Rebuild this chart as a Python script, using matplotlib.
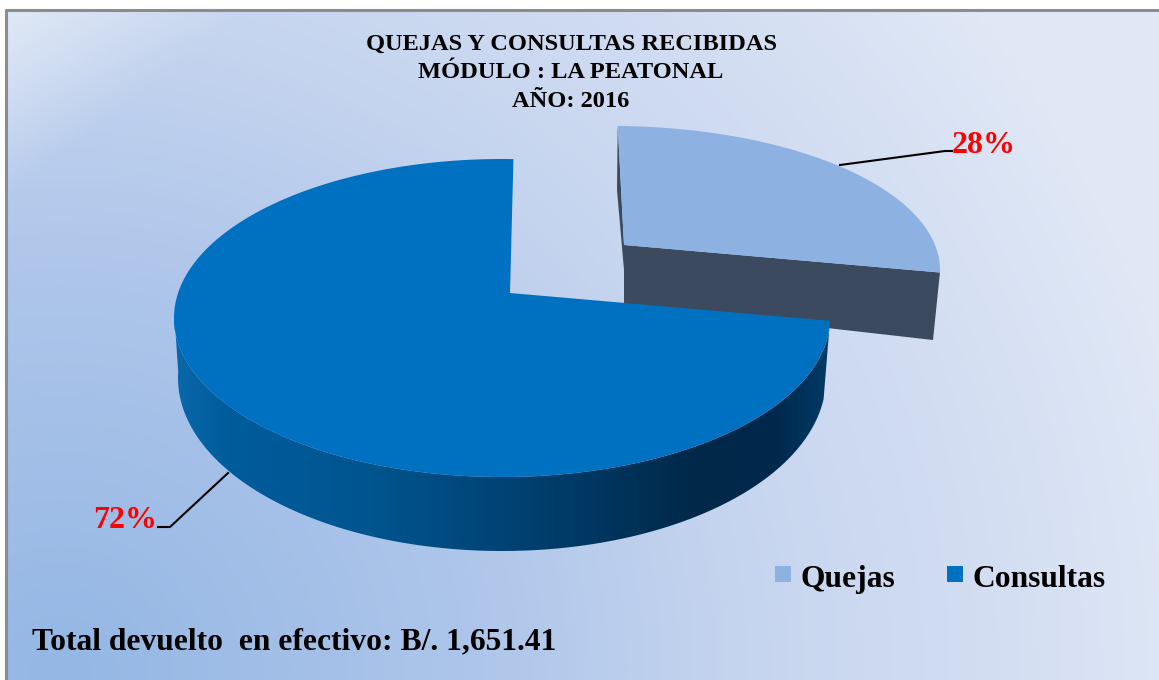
import numpy as np
import matplotlib
matplotlib.use("Agg")
import matplotlib.pyplot as plt
from matplotlib.colors import LinearSegmentedColormap
from matplotlib.patches import Polygon, Rectangle

categorias = ["Quejas", "Consultas"]
valores = [28, 72]
titulo = "QUEJAS Y CONSULTAS RECIBIDAS\nMÓDULO : LA PEATONAL\nAÑO: 2016"
total = "Total devuelto  en efectivo: B/. 1,651.41"

azul_claro = "#8db1e1"
azul = "#0070c0"
lado_queja = "#3b4a5e"

plt.rcParams["font.family"] = ["Liberation Serif", "DejaVu Serif"]
plt.rcParams["font.weight"] = "bold"

W, H = 1159, 680
fig = plt.figure(figsize=(W / 100, H / 100), dpi=100, facecolor="white")
ax = fig.add_axes([0, 0, 1, 1])
ax.set_xlim(0, W)
ax.set_ylim(H, 0)
ax.axis("off")

# fondo con degradado
xx, yy = np.meshgrid(np.arange(6, W), np.arange(10, H))
d = np.hypot(xx - 60, (yy - 670) * 1.05) / 1150
d = np.clip(d, 0, 1)
cm_fondo = LinearSegmentedColormap.from_list(
    "fondo", [(0, "#94b7e4"), (0.35, "#adc5ea"), (0.6, "#c6d5ef"), (0.8, "#d2ddf2"), (1, "#e0e8f6")])
img = cm_fondo(d)[:, :, :3]
esquina = np.clip(1 - (xx + yy * 1.3) / 260, 0, 1)[:, :, None] * 0.85
img = img * (1 - esquina) + np.array([0.90, 0.93, 0.97]) * esquina
ax.imshow(img, extent=[6, W, H, 10], aspect="auto", zorder=0)
ax.set_xlim(0, W)
ax.set_ylim(H, 0)
ax.plot([6, 6, W], [H, 10, 10], color="#8c8c8c", lw=2.2, zorder=1, solid_capstyle="butt")


def arco(cx, cy, rx, ry, a, b, n=200):
    t = np.radians(np.linspace(a, b, n))
    return np.column_stack([cx + rx * np.sin(t), cy - ry * np.cos(t)])


# angulos de cada porcion, con la deformacion de la perspectiva
grados = np.array(valores) * 3.6
fin_queja = grados[0]
ang = lambda g: float(np.interp(g, [0, fin_queja, 360], [1, 91, 362]))

# porcion separada: quejas
q_arco = arco(612, 270, 328, 144, ang(0), ang(fin_queja))
ax_q = (624, 245)
ax.add_patch(Polygon([ax_q, q_arco[-1], (933, 340), (624, 305)], fc=lado_queja, ec="none", zorder=2))
ax.add_patch(Polygon([q_arco[0], ax_q, (624, 270), (617, 190)], fc=lado_queja, ec="none", zorder=2))
ax.add_patch(Polygon(np.vstack([[ax_q], q_arco]), fc=azul_claro, ec="none", zorder=3))

# lado de la porcion grande con degradado
c_cx, c_cy, c_rx, c_ry = 502, 318, 328, 159
arriba = arco(c_cx, c_cy, c_rx, c_ry, ang(fin_queja), 272)
abajo = arco(c_cx, 378, 324, 173, ang(fin_queja) + 6, 272)
lado = Polygon(np.vstack([arriba, abajo[::-1]]), fc="none", ec="none", zorder=4)
ax.add_patch(lado)
cm_lado = LinearSegmentedColormap.from_list(
    "lado", [(0, "#0a67a8"), (0.08, "#005c9c"), (0.3, "#00558f"), (0.55, "#003f6e"),
             (0.8, "#002848"), (0.92, "#00294c"), (1, "#013a66")])
grad = ax.imshow(np.linspace(0, 1, 400)[None, :], cmap=cm_lado, extent=[174, 830, 560, 300],
                 aspect="auto", zorder=4)
grad.set_clip_path(lado)
ax.set_xlim(0, W)
ax.set_ylim(H, 0)

# cara superior de consultas
c_arco = arco(c_cx, c_cy, c_rx, c_ry, ang(fin_queja), ang(360))
ax.add_patch(Polygon(np.vstack([[(510, 293)], c_arco]), fc=azul, ec="none", zorder=5))

# lineas guia y etiquetas
ax.plot([840, 945, 952], [165, 151, 151], color="black", lw=1.5, zorder=6)
ax.plot([228, 170, 158], [473, 527, 527], color="black", lw=1.5, zorder=6)
ax.text(952, 153, f"{valores[0]}%", color="#ff0000", fontsize=23, ha="left", va="baseline", zorder=7)
ax.text(93, 528, f"{valores[1]}%", color="#ff0000", fontsize=23, ha="left", va="baseline", zorder=7)

for y_t, linea in zip([50, 78, 107], titulo.split("\n")):
    ax.text(571, y_t, linea, fontsize=17.6, ha="center", va="baseline", zorder=7)

# leyenda
for x_m, x_t, nombre, color in zip([775, 947], [800, 972], categorias, [azul_claro, azul]):
    ax.add_patch(Rectangle((x_m, 566), 16, 16, fc=color, ec="none", zorder=7))
    ax.text(x_t, 587, nombre, fontsize=22.7, ha="left", va="baseline", zorder=7)

ax.text(32, 649, total, fontsize=22.7, ha="left", va="baseline", zorder=7)

fig.savefig("out.png", dpi=100)
